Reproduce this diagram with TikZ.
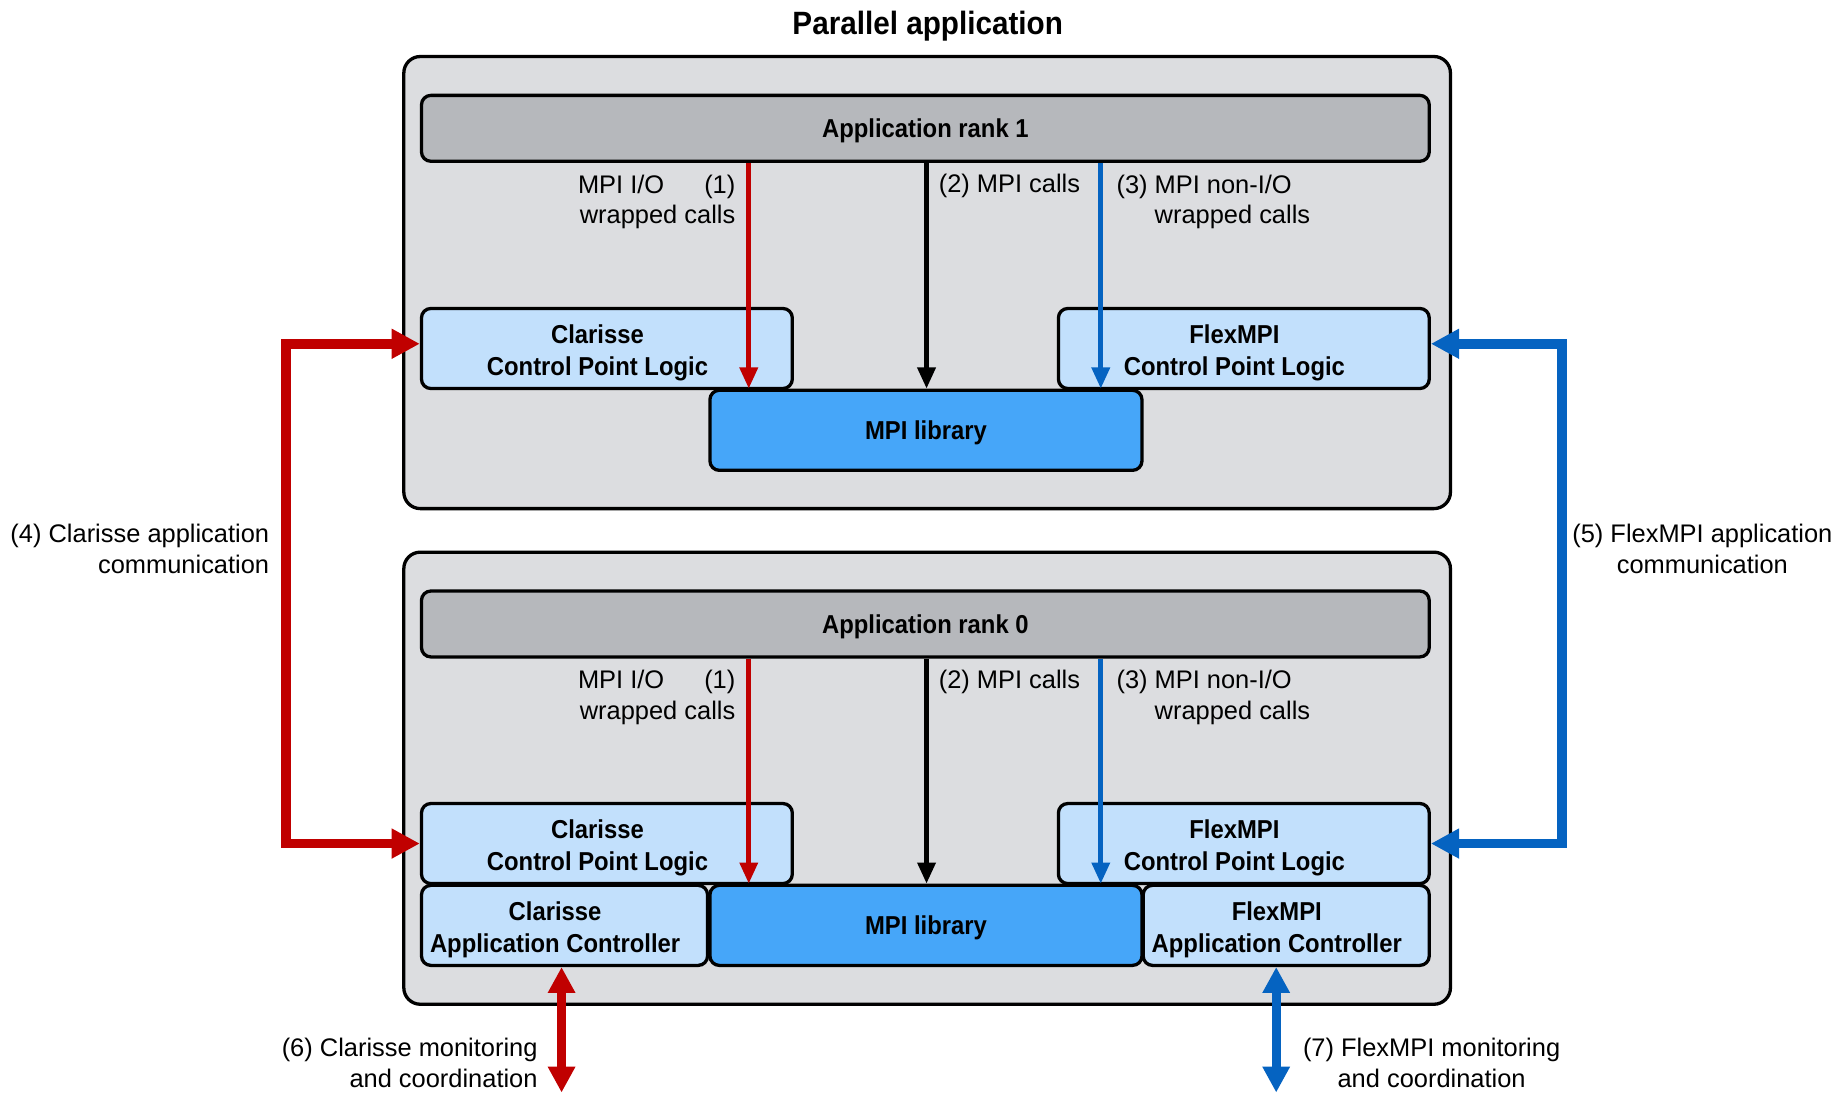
\documentclass[tikz,border=0pt]{standalone}
\usepackage{fontspec}
\setmainfont{Liberation Sans}[BoldFeatures={FakeStretch=0.92}]
\usetikzlibrary{arrows.meta, positioning}

\definecolor{shellgray}{HTML}{DCDDE0}
\definecolor{rankgray}{HTML}{B6B8BC}
\definecolor{cplblue}{HTML}{C2E0FC}
\definecolor{mpiblue}{HTML}{46A6F9}
\definecolor{clred}{HTML}{C00000}
\definecolor{flexblue}{HTML}{0563C1}

\newcommand*{\boxfnt}{\fontsize{11}{13.5}\selectfont\bfseries}
\newcommand*{\lblfnt}{\fontsize{10.8}{13}\selectfont}
% two centred lines, set a little left of the box centre
\newcommand*{\boxtxt}[2]{\begin{tabular}{@{}c@{\hspace{8pt}}}#1\\#2\end{tabular}}

\tikzset{
  shell/.style={draw, line width=1.4pt, rounded corners=7pt, fill=shellgray,
    minimum width=444.5pt, minimum height=192pt},
  rankbar/.style={draw, line width=1.4pt, rounded corners=4pt, fill=rankgray,
    minimum width=428pt, minimum height=28pt, text depth=0pt, font=\boxfnt},
  cpl/.style={draw, line width=1.4pt, rounded corners=4pt, fill=cplblue,
    minimum width=157.5pt, minimum height=34pt, inner sep=0pt, text depth=7pt,
    font=\boxfnt},
  ctrlbox/.style={cpl, minimum width=121.5pt},
  mpilib/.style={draw, line width=1.4pt, rounded corners=4pt, fill=mpiblue,
    minimum width=183.5pt, minimum height=34pt, text depth=0pt, font=\boxfnt},
  lbl/.style={inner sep=0pt, font=\lblfnt},
  titlelbl/.style={font=\fontsize{13.7}{16}\selectfont\bfseries},
  callarrow/.style={line width=2pt, -{Triangle[length=9pt,width=7.5pt]}},
  commlink/.style={line width=4.2pt,
    {Triangle[length=12pt,width=12pt]}-{Triangle[length=12pt,width=12pt]}},
  monlink/.style={line width=3.8pt,
    {Triangle[length=11pt,width=11pt]}-{Triangle[length=11pt,width=11pt]}}
}

\begin{document}
\begin{tikzpicture}[x=0.5pt, y=-0.5pt]
\useasboundingbox (0,0) rectangle (1568,928);

\coordinate (ioline) at (636,0);
\coordinate (mpiline) at (787,0);
\coordinate (nonioline) at (935,0);
\coordinate (clbus) at (243,0);
\coordinate (flbus) at (1327,0);
\coordinate (clmon) at (477,928);
\coordinate (flmon) at (1084,928);

\node[titlelbl] (title) at (788,22) {Parallel application};

% rank 1
\node[shell] (shell1) at (787.5,240) {};
\node[rankbar] (rank1) at (786,109) {Application rank 1};
\node[cpl] (ccpl1) at (515.5,296) {\boxtxt{Clarisse}{Control Point Logic}};
\node[cpl] (fcpl1) at (1056.5,296) {\boxtxt{FlexMPI}{Control Point Logic}};
\node[mpilib] (mpi1) at (786.5,365.5) {MPI library};

\draw[callarrow, clred] (rank1.south -| ioline) -- (mpi1.north -| ioline);
\draw[callarrow, black] (rank1.south -| mpiline) -- (mpi1.north -| mpiline);
\draw[callarrow, flexblue] (rank1.south -| nonioline) -- (mpi1.north -| nonioline);

\node[lbl, align=right, anchor=east] (io1) at (625,171.5) {MPI I/O\hspace{17pt}(1)\\wrapped calls};
\node[lbl, anchor=west] (call1) at (797,158) {(2) MPI calls};
\node[lbl, align=left, anchor=west] (nonio1) at (948,171.5) {(3) MPI non-I/O\\\hphantom{(3)\ }wrapped calls};

% rank 0
\node[shell] (shell0) at (787.5,661) {};
\node[rankbar] (rank0) at (786,530) {Application rank 0};
\node[cpl] (ccpl0) at (515.5,716.5) {\boxtxt{Clarisse}{Control Point Logic}};
\node[cpl] (fcpl0) at (1056.5,716.5) {\boxtxt{FlexMPI}{Control Point Logic}};
\node[ctrlbox] (cac) at (479.5,786) {\boxtxt{Clarisse}{Application Controller}};
\node[mpilib] (mpi0) at (786.5,786) {MPI library};
\node[ctrlbox] (fac) at (1092.5,786) {\boxtxt{FlexMPI}{Application Controller}};

\draw[callarrow, clred] (rank0.south -| ioline) -- (mpi0.north -| ioline);
\draw[callarrow, black] (rank0.south -| mpiline) -- (mpi0.north -| mpiline);
\draw[callarrow, flexblue] (rank0.south -| nonioline) -- (mpi0.north -| nonioline);

\node[lbl, align=right, anchor=east] (io0) at (625,592.5) {MPI I/O\hspace{17pt}(1)\\wrapped calls};
\node[lbl, anchor=west] (call0) at (797,579) {(2) MPI calls};
\node[lbl, align=left, anchor=west] (nonio0) at (948,592.5) {(3) MPI non-I/O\\\hphantom{(3)\ }wrapped calls};

% links between the ranks
\draw[commlink, clred] ([yshift=2pt]ccpl1.west) -- ([yshift=2pt]ccpl1.west -| clbus) |- (ccpl0.west);
\draw[commlink, flexblue] ([yshift=2pt]fcpl1.east) -- ([yshift=2pt]fcpl1.east -| flbus) |- (fcpl0.east);
\node[lbl, align=right, anchor=east] (clcomm) at (229,466) {(4) Clarisse application\\communication};
\node[lbl, align=center] (flcomm) at (1446,466) {(5) FlexMPI application\\communication};

% monitoring
\draw[monlink, clred] (cac.south -| clmon) -- (clmon);
\draw[monlink, flexblue] (fac.south -| flmon) -- (flmon);
\node[lbl, align=right, anchor=east] (clmonlbl) at (457,903) {(6) Clarisse monitoring\\and coordination};
\node[lbl, align=center] (flmonlbl) at (1216,903) {(7) FlexMPI monitoring\\and coordination};
\end{tikzpicture}
\end{document}
